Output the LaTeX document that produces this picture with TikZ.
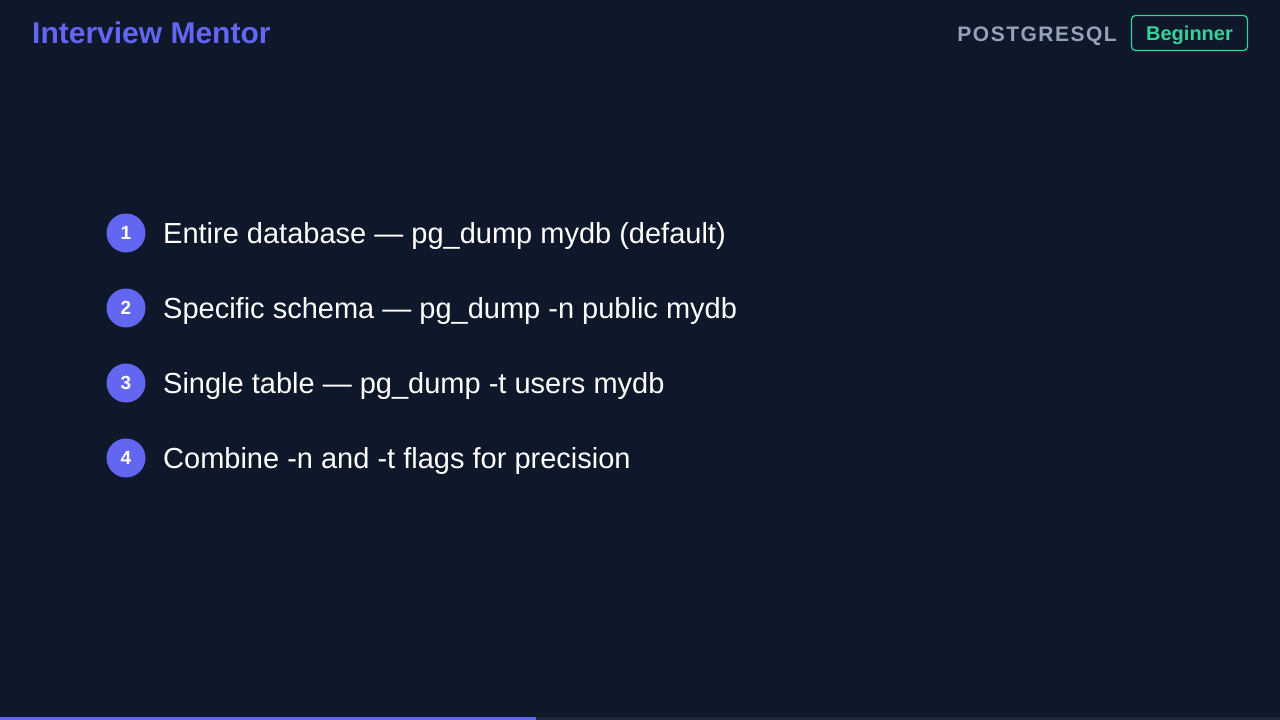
\documentclass[tikz,border=0pt]{standalone}
\usepackage{fontspec}
\setmainfont{Liberation Sans}
\definecolor{bg}{HTML}{0F172A}
\definecolor{accent}{HTML}{6366F1}
\definecolor{grayt}{HTML}{94A3B8}
\definecolor{greent}{HTML}{34D399}
\definecolor{track}{HTML}{1E293B}
\begin{document}
\begin{tikzpicture}[x=1pt,y=-1pt,
  num/.style={circle,fill=accent,minimum size=39pt,inner sep=0pt,text=white,font=\fontsize{19}{20}\selectfont\bfseries},
  item/.style={anchor=base west,text=white,font=\fontsize{29}{32}\selectfont,inner sep=0pt}]
\fill[bg] (0,0) rectangle (1280,720);
\useasboundingbox (0,0) rectangle (1280,720);
\node[anchor=base west,inner sep=0pt,text=accent,font=\fontsize{30}{31}\selectfont\bfseries] (title) at (32,43) {Interview Mentor};
\node[anchor=base east,inner sep=0pt,text=grayt,font=\fontsize{21}{24}\selectfont\bfseries] (topic) at (1117,41) {P\kern1.5pt O\kern1.5pt S\kern1.5pt T\kern1.5pt G\kern1.5pt R\kern1.5pt E\kern1.5pt S\kern1.5pt Q\kern1.5pt L};
\node[draw=greent,line width=1.2pt,rounded corners=4pt,minimum width=116pt,minimum height=35pt,inner sep=0pt] (lvl) at (1189.5,33) {};
\node[anchor=base,inner sep=0pt,text=greent,font=\fontsize{20}{22}\selectfont\bfseries] (lvlt) at (1189.5,40) {Beginner};
\foreach \i/\y/\t in {1/233/{Entire database — pg\_dump mydb (default)},2/308/{Specific schema — pg\_dump -n public mydb},3/383/{Single table — pg\_dump -t users mydb},4/458/{Combine -n and -t flags for precision}}{
  \node[num] (n\i) at (126,\y) {\raisebox{-0.5pt}{\i}};
  \node[item] (t\i) at (163,\y+10) {\t};
}
\fill[track] (536,717) rectangle (1280,720);
\fill[accent] (0,717) rectangle (536,720);
\end{tikzpicture}
\end{document}
